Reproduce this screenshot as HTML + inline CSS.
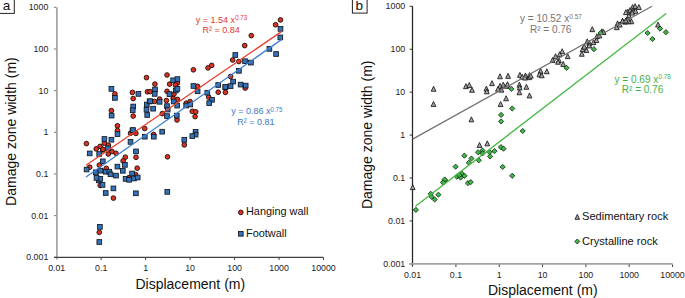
<!DOCTYPE html>
<html><head><meta charset="utf-8"><style>
html,body{margin:0;padding:0;background:#fff;}
body{width:685px;height:298px;overflow:hidden;}
svg{display:block;font-family:"Liberation Sans", sans-serif;}
.tk{font-size:8.8px;fill:#222;}
.ttl{font-size:14px;fill:#111;}
.pl{font-size:13.5px;fill:#111;}
.lg{font-size:10.9px;fill:#111;}
.eq{font-size:8.9px;}
.sup{font-size:6px;}
</style></head><body>
<svg width="685" height="298" viewBox="0 0 685 298">
<line x1="56.9" y1="7.3" x2="56.9" y2="259.6" stroke="#a2a2a2" stroke-width="1.7"/>
<line x1="54" y1="257.32" x2="56.2" y2="257.32" stroke="#7a7a7a" stroke-width="1"/>
<text x="48.3" y="260.32" text-anchor="end" class="tk">0.001</text>
<line x1="54" y1="215.65" x2="56.2" y2="215.65" stroke="#7a7a7a" stroke-width="1"/>
<text x="48.3" y="218.65" text-anchor="end" class="tk">0.01</text>
<line x1="54" y1="173.98" x2="56.2" y2="173.98" stroke="#7a7a7a" stroke-width="1"/>
<text x="48.3" y="176.98" text-anchor="end" class="tk">0.1</text>
<line x1="54" y1="132.31" x2="56.2" y2="132.31" stroke="#7a7a7a" stroke-width="1"/>
<text x="48.3" y="135.31" text-anchor="end" class="tk">1</text>
<line x1="54" y1="90.64" x2="56.2" y2="90.64" stroke="#7a7a7a" stroke-width="1"/>
<text x="48.3" y="93.64" text-anchor="end" class="tk">10</text>
<line x1="54" y1="48.97" x2="56.2" y2="48.97" stroke="#7a7a7a" stroke-width="1"/>
<text x="48.3" y="51.97" text-anchor="end" class="tk">100</text>
<line x1="54" y1="7.30" x2="56.2" y2="7.30" stroke="#7a7a7a" stroke-width="1"/>
<text x="48.3" y="10.30" text-anchor="end" class="tk">1000</text>
<line x1="54" y1="257.4" x2="323.5" y2="257.4" stroke="#404040" stroke-width="1.1"/>
<text x="56.70" y="270.8" text-anchor="middle" class="tk">0.01</text>
<line x1="101.17" y1="257.3" x2="101.17" y2="260" stroke="#404040" stroke-width="1"/>
<text x="101.17" y="270.8" text-anchor="middle" class="tk">0.1</text>
<line x1="145.64" y1="257.3" x2="145.64" y2="260" stroke="#404040" stroke-width="1"/>
<text x="145.64" y="270.8" text-anchor="middle" class="tk">1</text>
<line x1="190.11" y1="257.3" x2="190.11" y2="260" stroke="#404040" stroke-width="1"/>
<text x="190.11" y="270.8" text-anchor="middle" class="tk">10</text>
<line x1="234.58" y1="257.3" x2="234.58" y2="260" stroke="#404040" stroke-width="1"/>
<text x="234.58" y="270.8" text-anchor="middle" class="tk">100</text>
<line x1="279.05" y1="257.3" x2="279.05" y2="260" stroke="#404040" stroke-width="1"/>
<text x="279.05" y="270.8" text-anchor="middle" class="tk">1000</text>
<line x1="323.52" y1="257.3" x2="323.52" y2="260" stroke="#404040" stroke-width="1"/>
<text x="323.52" y="270.8" text-anchor="middle" class="tk">10000</text>
<text x="190.3" y="288.7" text-anchor="middle" class="ttl">Displacement (m)</text>
<text transform="translate(15.6,131.6) rotate(-90)" text-anchor="middle" class="ttl">Damage zone width (m)</text>
<line x1="412.5" y1="6.3" x2="412.5" y2="266.6" stroke="#252525" stroke-width="1.25"/>
<line x1="409.6" y1="263.88" x2="412.6" y2="263.88" stroke="#333" stroke-width="1"/>
<text x="405.2" y="266.98" text-anchor="end" class="tk">0.001</text>
<line x1="409.6" y1="220.95" x2="412.6" y2="220.95" stroke="#333" stroke-width="1"/>
<text x="405.2" y="224.05" text-anchor="end" class="tk">0.01</text>
<line x1="409.6" y1="178.02" x2="412.6" y2="178.02" stroke="#333" stroke-width="1"/>
<text x="405.2" y="181.12" text-anchor="end" class="tk">0.1</text>
<line x1="409.6" y1="135.09" x2="412.6" y2="135.09" stroke="#333" stroke-width="1"/>
<text x="405.2" y="138.19" text-anchor="end" class="tk">1</text>
<line x1="409.6" y1="92.16" x2="412.6" y2="92.16" stroke="#333" stroke-width="1"/>
<text x="405.2" y="95.26" text-anchor="end" class="tk">10</text>
<line x1="409.6" y1="49.23" x2="412.6" y2="49.23" stroke="#333" stroke-width="1"/>
<text x="405.2" y="52.33" text-anchor="end" class="tk">100</text>
<line x1="409.6" y1="6.30" x2="412.6" y2="6.30" stroke="#333" stroke-width="1"/>
<text x="405.2" y="9.40" text-anchor="end" class="tk">1000</text>
<line x1="409.6" y1="263.8" x2="672.6" y2="263.8" stroke="#a2a2a2" stroke-width="1.8"/>
<text x="412.60" y="278.0" text-anchor="middle" class="tk">0.01</text>
<line x1="455.92" y1="264.6" x2="455.92" y2="266.9" stroke="#333" stroke-width="1"/>
<text x="455.92" y="278.0" text-anchor="middle" class="tk">0.1</text>
<line x1="499.24" y1="264.6" x2="499.24" y2="266.9" stroke="#333" stroke-width="1"/>
<text x="499.24" y="278.0" text-anchor="middle" class="tk">1</text>
<line x1="542.56" y1="264.6" x2="542.56" y2="266.9" stroke="#333" stroke-width="1"/>
<text x="542.56" y="278.0" text-anchor="middle" class="tk">10</text>
<line x1="585.88" y1="264.6" x2="585.88" y2="266.9" stroke="#333" stroke-width="1"/>
<text x="585.88" y="278.0" text-anchor="middle" class="tk">100</text>
<line x1="629.20" y1="264.6" x2="629.20" y2="266.9" stroke="#333" stroke-width="1"/>
<text x="629.20" y="278.0" text-anchor="middle" class="tk">1000</text>
<line x1="672.52" y1="264.6" x2="672.52" y2="266.9" stroke="#333" stroke-width="1"/>
<text x="672.52" y="278.0" text-anchor="middle" class="tk">10000</text>
<text x="542.8" y="295.2" text-anchor="middle" class="ttl">Displacement (m)</text>
<text transform="translate(371.5,134.8) rotate(-90)" text-anchor="middle" class="ttl">Damage zone width (m)</text>
<rect x="-0.5" y="-1" width="14.8" height="14.4" fill="none" stroke="#222" stroke-width="1"/>
<text x="6.5" y="9.9" text-anchor="middle" class="pl">a</text>
<rect x="352.4" y="-1" width="14.7" height="14.1" fill="none" stroke="#222" stroke-width="1"/>
<text x="359.3" y="10.1" text-anchor="middle" class="pl">b</text>
<circle cx="240.8" cy="212.4" r="2.35" fill="#df3121" stroke="#1a0c0a" stroke-width="0.9"/>
<text x="246" y="215.4" class="lg">Hanging wall</text>
<rect x="238.45" y="231.45" width="4.7" height="4.7" fill="#3571b6" stroke="#101820" stroke-width="0.85"/>
<text x="246" y="237.1" class="lg">Footwall</text>
<path d="M577.3,214.4 L579.6,219.3 L575.0,219.3 Z" fill="#a8a4a4" stroke="#151515" stroke-width="0.85"/>
<text x="582" y="220.1" class="lg" style="font-size:11.1px">Sedimentary rock</text>
<path d="M577.3,239.0 L579.8,241.5 L577.3,244.0 L574.8,241.5 Z" fill="#40b848" stroke="#0f2410" stroke-width="0.8"/>
<text x="582" y="245.2" class="lg" style="font-size:11.1px">Crystalline rock</text>
<g fill="#df3121" stroke="#1a0c0a" stroke-width="0.9"><circle cx="280.5" cy="19.9" r="2.35"/><circle cx="275.6" cy="24.75" r="2.35"/><circle cx="251.3" cy="35.6" r="2.35"/><circle cx="244.7" cy="45.6" r="2.35"/><circle cx="232.7" cy="60.0" r="2.35"/><circle cx="238.8" cy="61.5" r="2.35"/><circle cx="230.6" cy="76.5" r="2.35"/><circle cx="193.4" cy="69.8" r="2.35"/><circle cx="208.0" cy="67.9" r="2.35"/><circle cx="211.7" cy="65.4" r="2.35"/><circle cx="146.5" cy="77.6" r="2.35"/><circle cx="167.0" cy="75.0" r="2.35"/><circle cx="177.4" cy="83.1" r="2.35"/><circle cx="169.6" cy="84.1" r="2.35"/><circle cx="175.4" cy="85.0" r="2.35"/><circle cx="154.9" cy="84.1" r="2.35"/><circle cx="147.4" cy="91.8" r="2.35"/><circle cx="150.1" cy="91.6" r="2.35"/><circle cx="167.0" cy="91.3" r="2.35"/><circle cx="174.0" cy="94.1" r="2.35"/><circle cx="197.6" cy="86.3" r="2.35"/><circle cx="218.2" cy="92.2" r="2.35"/><circle cx="225.4" cy="92.4" r="2.35"/><circle cx="208.7" cy="97.1" r="2.35"/><circle cx="245.2" cy="88.1" r="2.35"/><circle cx="114.9" cy="93.9" r="2.35"/><circle cx="132.4" cy="92.4" r="2.35"/><circle cx="133.2" cy="98.6" r="2.35"/><circle cx="111.4" cy="110.6" r="2.35"/><circle cx="133.2" cy="116.1" r="2.35"/><circle cx="117.4" cy="125.8" r="2.35"/><circle cx="117.5" cy="130.5" r="2.35"/><circle cx="144.7" cy="128.5" r="2.35"/><circle cx="154.6" cy="101.5" r="2.35"/><circle cx="159.6" cy="99.1" r="2.35"/><circle cx="166.4" cy="100.5" r="2.35"/><circle cx="173.2" cy="98.5" r="2.35"/><circle cx="177.5" cy="99.4" r="2.35"/><circle cx="162.3" cy="113.6" r="2.35"/><circle cx="177.0" cy="120.0" r="2.35"/><circle cx="186.3" cy="103.2" r="2.35"/><circle cx="190.1" cy="101.6" r="2.35"/><circle cx="192.3" cy="111.3" r="2.35"/><circle cx="195.7" cy="111.8" r="2.35"/><circle cx="195.1" cy="116.6" r="2.35"/><circle cx="184.3" cy="144.9" r="2.35"/><circle cx="86.4" cy="143.6" r="2.35"/><circle cx="104.4" cy="143.2" r="2.35"/><circle cx="108.4" cy="145.2" r="2.35"/><circle cx="100.1" cy="146.4" r="2.35"/><circle cx="96.2" cy="148.9" r="2.35"/><circle cx="102.7" cy="150.0" r="2.35"/><circle cx="103.0" cy="149.3" r="2.35"/><circle cx="130.6" cy="133.2" r="2.35"/><circle cx="135.9" cy="133.4" r="2.35"/><circle cx="153.6" cy="134.5" r="2.35"/><circle cx="108.3" cy="154.0" r="2.35"/><circle cx="112.0" cy="151.5" r="2.35"/><circle cx="116.0" cy="153.3" r="2.35"/><circle cx="99.3" cy="165.1" r="2.35"/><circle cx="89.7" cy="167.2" r="2.35"/><circle cx="106.3" cy="168.3" r="2.35"/><circle cx="125.3" cy="157.2" r="2.35"/><circle cx="123.1" cy="160.9" r="2.35"/><circle cx="136.0" cy="157.3" r="2.35"/><circle cx="137.2" cy="168.2" r="2.35"/><circle cx="167.5" cy="156.8" r="2.35"/><circle cx="129.0" cy="177.6" r="2.35"/><circle cx="135.5" cy="174.6" r="2.35"/><circle cx="100.2" cy="185.4" r="2.35"/><circle cx="113.4" cy="198.1" r="2.35"/><circle cx="99.3" cy="232.3" r="2.35"/></g><g fill="#3571b6" stroke="#101820" stroke-width="0.85"><rect x="278.15" y="26.55" width="4.7" height="4.7"/><rect x="277.95" y="35.05" width="4.7" height="4.7"/><rect x="267.05" y="46.55" width="4.7" height="4.7"/><rect x="273.75" y="51.65" width="4.7" height="4.7"/><rect x="232.95" y="52.65" width="4.7" height="4.7"/><rect x="242.65" y="58.85" width="4.7" height="4.7"/><rect x="248.55" y="60.25" width="4.7" height="4.7"/><rect x="236.55" y="68.45" width="4.7" height="4.7"/><rect x="230.75" y="79.25" width="4.7" height="4.7"/><rect x="228.25" y="83.75" width="4.7" height="4.7"/><rect x="223.05" y="84.95" width="4.7" height="4.7"/><rect x="238.25" y="82.25" width="4.7" height="4.7"/><rect x="243.35" y="83.25" width="4.7" height="4.7"/><rect x="170.75" y="77.95" width="4.7" height="4.7"/><rect x="175.05" y="76.75" width="4.7" height="4.7"/><rect x="152.65" y="87.15" width="4.7" height="4.7"/><rect x="152.35" y="91.55" width="4.7" height="4.7"/><rect x="173.45" y="88.15" width="4.7" height="4.7"/><rect x="175.05" y="86.55" width="4.7" height="4.7"/><rect x="167.05" y="91.75" width="4.7" height="4.7"/><rect x="191.05" y="83.65" width="4.7" height="4.7"/><rect x="195.25" y="88.95" width="4.7" height="4.7"/><rect x="204.95" y="90.35" width="4.7" height="4.7"/><rect x="215.85" y="82.65" width="4.7" height="4.7"/><rect x="222.95" y="84.65" width="4.7" height="4.7"/><rect x="209.65" y="97.45" width="4.7" height="4.7"/><rect x="206.85" y="100.75" width="4.7" height="4.7"/><rect x="109.05" y="86.55" width="4.7" height="4.7"/><rect x="112.55" y="95.55" width="4.7" height="4.7"/><rect x="136.05" y="91.55" width="4.7" height="4.7"/><rect x="130.85" y="104.15" width="4.7" height="4.7"/><rect x="130.35" y="107.95" width="4.7" height="4.7"/><rect x="109.25" y="113.25" width="4.7" height="4.7"/><rect x="144.45" y="102.15" width="4.7" height="4.7"/><rect x="144.15" y="107.35" width="4.7" height="4.7"/><rect x="144.85" y="112.65" width="4.7" height="4.7"/><rect x="147.25" y="99.15" width="4.7" height="4.7"/><rect x="147.75" y="98.85" width="4.7" height="4.7"/><rect x="157.25" y="99.45" width="4.7" height="4.7"/><rect x="171.35" y="99.15" width="4.7" height="4.7"/><rect x="174.85" y="103.25" width="4.7" height="4.7"/><rect x="150.75" y="106.35" width="4.7" height="4.7"/><rect x="164.65" y="103.75" width="4.7" height="4.7"/><rect x="165.35" y="107.25" width="4.7" height="4.7"/><rect x="164.65" y="113.75" width="4.7" height="4.7"/><rect x="174.45" y="113.25" width="4.7" height="4.7"/><rect x="183.85" y="103.15" width="4.7" height="4.7"/><rect x="187.95" y="102.15" width="4.7" height="4.7"/><rect x="193.25" y="129.45" width="4.7" height="4.7"/><rect x="193.25" y="132.25" width="4.7" height="4.7"/><rect x="189.95" y="133.75" width="4.7" height="4.7"/><rect x="181.95" y="137.55" width="4.7" height="4.7"/><rect x="102.05" y="136.65" width="4.7" height="4.7"/><rect x="109.05" y="137.35" width="4.7" height="4.7"/><rect x="115.15" y="131.75" width="4.7" height="4.7"/><rect x="130.15" y="127.95" width="4.7" height="4.7"/><rect x="130.65" y="127.75" width="4.7" height="4.7"/><rect x="128.15" y="139.55" width="4.7" height="4.7"/><rect x="142.45" y="134.35" width="4.7" height="4.7"/><rect x="151.45" y="134.35" width="4.7" height="4.7"/><rect x="159.85" y="129.35" width="4.7" height="4.7"/><rect x="87.35" y="151.05" width="4.7" height="4.7"/><rect x="96.85" y="151.65" width="4.7" height="4.7"/><rect x="105.65" y="145.95" width="4.7" height="4.7"/><rect x="133.65" y="149.05" width="4.7" height="4.7"/><rect x="100.45" y="158.95" width="4.7" height="4.7"/><rect x="84.25" y="167.15" width="4.7" height="4.7"/><rect x="93.45" y="169.95" width="4.7" height="4.7"/><rect x="98.05" y="168.35" width="4.7" height="4.7"/><rect x="103.55" y="169.35" width="4.7" height="4.7"/><rect x="106.95" y="169.35" width="4.7" height="4.7"/><rect x="108.15" y="171.95" width="4.7" height="4.7"/><rect x="113.65" y="173.25" width="4.7" height="4.7"/><rect x="115.05" y="164.25" width="4.7" height="4.7"/><rect x="122.55" y="162.55" width="4.7" height="4.7"/><rect x="120.45" y="168.45" width="4.7" height="4.7"/><rect x="129.75" y="171.15" width="4.7" height="4.7"/><rect x="123.25" y="176.55" width="4.7" height="4.7"/><rect x="126.75" y="177.45" width="4.7" height="4.7"/><rect x="131.65" y="176.15" width="4.7" height="4.7"/><rect x="135.35" y="175.15" width="4.7" height="4.7"/><rect x="96.45" y="178.05" width="4.7" height="4.7"/><rect x="97.95" y="176.45" width="4.7" height="4.7"/><rect x="94.15" y="175.55" width="4.7" height="4.7"/><rect x="100.15" y="182.55" width="4.7" height="4.7"/><rect x="111.05" y="186.05" width="4.7" height="4.7"/><rect x="103.35" y="190.65" width="4.7" height="4.7"/><rect x="133.55" y="190.95" width="4.7" height="4.7"/><rect x="164.95" y="189.55" width="4.7" height="4.7"/><rect x="97.55" y="224.55" width="4.7" height="4.7"/><rect x="96.95" y="239.65" width="4.7" height="4.7"/></g><g fill="#a8a4a4" stroke="#151515" stroke-width="0.85"><path d="M433.60,86.25 L436.00,91.25 L431.20,91.25 Z"/><path d="M433.50,101.45 L435.90,106.45 L431.10,106.45 Z"/><path d="M412.70,184.65 L415.10,189.65 L410.30,189.65 Z"/><path d="M471.40,116.85 L473.80,121.85 L469.00,121.85 Z"/><path d="M465.90,83.65 L468.30,88.65 L463.50,88.65 Z"/><path d="M469.30,82.45 L471.70,87.45 L466.90,87.45 Z"/><path d="M472.00,87.25 L474.40,92.25 L469.60,92.25 Z"/><path d="M486.40,86.05 L488.80,91.05 L484.00,91.05 Z"/><path d="M486.80,88.85 L489.20,93.85 L484.40,93.85 Z"/><path d="M492.00,80.65 L494.40,85.65 L489.60,85.65 Z"/><path d="M500.00,73.75 L502.40,78.75 L497.60,78.75 Z"/><path d="M508.10,73.35 L510.50,78.35 L505.70,78.35 Z"/><path d="M500.10,83.35 L502.50,88.35 L497.70,88.35 Z"/><path d="M503.30,82.15 L505.70,87.15 L500.90,87.15 Z"/><path d="M498.00,86.35 L500.40,91.35 L495.60,91.35 Z"/><path d="M501.40,87.15 L503.80,92.15 L499.00,92.15 Z"/><path d="M506.80,83.35 L509.20,88.35 L504.40,88.35 Z"/><path d="M507.50,81.75 L509.90,86.75 L505.10,86.75 Z"/><path d="M519.90,72.35 L522.30,77.35 L517.50,77.35 Z"/><path d="M522.20,74.25 L524.60,79.25 L519.80,79.25 Z"/><path d="M525.50,72.95 L527.90,77.95 L523.10,77.95 Z"/><path d="M525.00,75.05 L527.40,80.05 L522.60,80.05 Z"/><path d="M529.50,72.55 L531.90,77.55 L527.10,77.55 Z"/><path d="M529.30,74.65 L531.70,79.65 L526.90,79.65 Z"/><path d="M519.40,82.15 L521.80,87.15 L517.00,87.15 Z"/><path d="M519.70,84.95 L522.10,89.95 L517.30,89.95 Z"/><path d="M519.40,89.75 L521.80,94.75 L517.00,94.75 Z"/><path d="M526.40,84.25 L528.80,89.25 L524.00,89.25 Z"/><path d="M529.50,92.95 L531.90,97.95 L527.10,97.95 Z"/><path d="M506.10,95.75 L508.50,100.75 L503.70,100.75 Z"/><path d="M500.60,101.55 L503.00,106.55 L498.20,106.55 Z"/><path d="M540.60,68.35 L543.00,73.35 L538.20,73.35 Z"/><path d="M539.40,71.85 L541.80,76.85 L537.00,76.85 Z"/><path d="M541.80,72.75 L544.20,77.75 L539.40,77.75 Z"/><path d="M546.80,68.75 L549.20,73.75 L544.40,73.75 Z"/><path d="M530.80,73.15 L533.20,78.15 L528.40,78.15 Z"/><path d="M562.20,48.75 L564.60,53.75 L559.80,53.75 Z"/><path d="M559.70,51.65 L562.10,56.65 L557.30,56.65 Z"/><path d="M567.70,53.65 L570.10,58.65 L565.30,58.65 Z"/><path d="M555.50,53.75 L557.90,58.75 L553.10,58.75 Z"/><path d="M552.60,57.55 L555.00,62.55 L550.20,62.55 Z"/><path d="M558.90,57.55 L561.30,62.55 L556.50,62.55 Z"/><path d="M558.00,59.25 L560.40,64.25 L555.60,64.25 Z"/><path d="M563.20,61.45 L565.60,66.45 L560.80,66.45 Z"/><path d="M592.30,26.65 L594.70,31.65 L589.90,31.65 Z"/><path d="M587.20,38.85 L589.60,43.85 L584.80,43.85 Z"/><path d="M589.30,40.45 L591.70,45.45 L586.90,45.45 Z"/><path d="M593.50,39.65 L595.90,44.65 L591.10,44.65 Z"/><path d="M596.40,37.55 L598.80,42.55 L594.00,42.55 Z"/><path d="M596.90,33.75 L599.30,38.75 L594.50,38.75 Z"/><path d="M599.40,32.95 L601.80,37.95 L597.00,37.95 Z"/><path d="M601.90,28.75 L604.30,33.75 L599.50,33.75 Z"/><path d="M603.60,29.55 L606.00,34.55 L601.20,34.55 Z"/><path d="M589.30,42.95 L591.70,47.95 L586.90,47.95 Z"/><path d="M586.40,47.55 L588.80,52.55 L584.00,52.55 Z"/><path d="M582.60,46.65 L585.00,51.65 L580.20,51.65 Z"/><path d="M581.80,51.25 L584.20,56.25 L579.40,56.25 Z"/><path d="M584.30,44.15 L586.70,49.15 L581.90,49.15 Z"/><path d="M617.60,20.85 L620.00,25.85 L615.20,25.85 Z"/><path d="M616.80,24.65 L619.20,29.65 L614.40,29.65 Z"/><path d="M619.70,22.05 L622.10,27.05 L617.30,27.05 Z"/><path d="M622.60,18.35 L625.00,23.35 L620.20,23.35 Z"/><path d="M625.20,19.15 L627.60,24.15 L622.80,24.15 Z"/><path d="M628.10,15.85 L630.50,20.85 L625.70,20.85 Z"/><path d="M631.40,18.75 L633.80,23.75 L629.00,23.75 Z"/><path d="M628.50,18.75 L630.90,23.75 L626.10,23.75 Z"/><path d="M628.90,12.85 L631.30,17.85 L626.50,17.85 Z"/><path d="M632.60,4.55 L635.00,9.55 L630.20,9.55 Z"/><path d="M635.10,3.75 L637.50,8.75 L632.70,8.75 Z"/><path d="M638.90,4.55 L641.30,9.55 L636.50,9.55 Z"/><path d="M628.00,9.15 L630.40,14.15 L625.60,14.15 Z"/><path d="M630.10,7.55 L632.50,12.55 L627.70,12.55 Z"/><path d="M632.60,7.95 L635.00,12.95 L630.20,12.95 Z"/><path d="M635.50,8.35 L637.90,13.35 L633.10,13.35 Z"/><path d="M632.20,10.05 L634.60,15.05 L629.80,15.05 Z"/><path d="M625.90,9.65 L628.30,14.65 L623.50,14.65 Z"/><path d="M622.50,18.45 L624.90,23.45 L620.10,23.45 Z"/><path d="M625.90,17.95 L628.30,22.95 L623.50,22.95 Z"/><path d="M479.50,142.45 L481.90,147.45 L477.10,147.45 Z"/><path d="M487.30,140.85 L489.70,145.85 L484.90,145.85 Z"/><path d="M658.00,22.05 L660.40,27.05 L655.60,27.05 Z"/></g><g fill="#40b848" stroke="#0f2410" stroke-width="0.8"><path d="M511.4,86.3 L514.0,88.9 L511.4,91.5 L508.8,88.9 Z"/><path d="M512.2,105.9 L514.8,108.5 L512.2,111.1 L509.6,108.5 Z"/><path d="M501.1,112.3 L503.7,114.9 L501.1,117.5 L498.5,114.9 Z"/><path d="M501.1,118.8 L503.7,121.4 L501.1,124.0 L498.5,121.4 Z"/><path d="M566.5,65.2 L569.1,67.8 L566.5,70.4 L563.9,67.8 Z"/><path d="M600.6,30.4 L603.2,33.0 L600.6,35.6 L598.0,33.0 Z"/><path d="M593.9,46.6 L596.5,49.2 L593.9,51.8 L591.3,49.2 Z"/><path d="M660.0,26.0 L662.6,28.6 L660.0,31.2 L657.4,28.6 Z"/><path d="M665.9,29.6 L668.5,32.2 L665.9,34.8 L663.3,32.2 Z"/><path d="M647.6,30.4 L650.2,33.0 L647.6,35.6 L645.0,33.0 Z"/><path d="M652.4,36.4 L655.0,39.0 L652.4,41.6 L649.8,39.0 Z"/><path d="M415.9,207.3 L418.5,209.9 L415.9,212.5 L413.3,209.9 Z"/><path d="M430.7,191.2 L433.3,193.8 L430.7,196.4 L428.1,193.8 Z"/><path d="M431.6,194.2 L434.2,196.8 L431.6,199.4 L429.0,196.8 Z"/><path d="M434.7,196.9 L437.3,199.5 L434.7,202.1 L432.1,199.5 Z"/><path d="M438.4,192.1 L441.0,194.7 L438.4,197.3 L435.8,194.7 Z"/><path d="M443.5,179.5 L446.1,182.1 L443.5,184.7 L440.9,182.1 Z"/><path d="M445.2,177.8 L447.8,180.4 L445.2,183.0 L442.6,180.4 Z"/><path d="M455.6,164.1 L458.2,166.7 L455.6,169.3 L453.0,166.7 Z"/><path d="M444.6,176.9 L447.2,179.5 L444.6,182.1 L442.0,179.5 Z"/><path d="M443.0,179.9 L445.6,182.5 L443.0,185.1 L440.4,182.5 Z"/><path d="M456.8,174.0 L459.4,176.6 L456.8,179.2 L454.2,176.6 Z"/><path d="M460.6,175.0 L463.2,177.6 L460.6,180.2 L458.0,177.6 Z"/><path d="M461.7,171.0 L464.3,173.6 L461.7,176.2 L459.1,173.6 Z"/><path d="M464.5,173.2 L467.1,175.8 L464.5,178.4 L461.9,175.8 Z"/><path d="M459.3,172.5 L461.9,175.1 L459.3,177.7 L456.7,175.1 Z"/><path d="M468.0,180.5 L470.6,183.1 L468.0,185.7 L465.4,183.1 Z"/><path d="M470.7,179.5 L473.3,182.1 L470.7,184.7 L468.1,182.1 Z"/><path d="M464.4,153.1 L467.0,155.7 L464.4,158.3 L461.8,155.7 Z"/><path d="M471.4,155.9 L474.0,158.5 L471.4,161.1 L468.8,158.5 Z"/><path d="M468.8,160.1 L471.4,162.7 L468.8,165.3 L466.2,162.7 Z"/><path d="M478.1,149.7 L480.7,152.3 L478.1,154.9 L475.5,152.3 Z"/><path d="M482.5,148.0 L485.1,150.6 L482.5,153.2 L479.9,150.6 Z"/><path d="M482.5,150.8 L485.1,153.4 L482.5,156.0 L479.9,153.4 Z"/><path d="M478.8,157.7 L481.4,160.3 L478.8,162.9 L476.2,160.3 Z"/><path d="M489.6,149.6 L492.2,152.2 L489.6,154.8 L487.0,152.2 Z"/><path d="M494.5,148.5 L497.1,151.1 L494.5,153.7 L491.9,151.1 Z"/><path d="M490.1,153.8 L492.7,156.4 L490.1,159.0 L487.5,156.4 Z"/><path d="M500.9,144.5 L503.5,147.1 L500.9,149.7 L498.3,147.1 Z"/><path d="M503.5,146.1 L506.1,148.7 L503.5,151.3 L500.9,148.7 Z"/><path d="M522.7,128.4 L525.3,131.0 L522.7,133.6 L520.1,131.0 Z"/><path d="M502.7,164.3 L505.3,166.9 L502.7,169.5 L500.1,166.9 Z"/><path d="M512.2,173.2 L514.8,175.8 L512.2,178.4 L509.6,175.8 Z"/></g>
<path d="M86.00,165.29 L281.80,31.36" stroke="#e8402e" stroke-width="1.3" fill="none"/><path d="M86.00,176.95 L281.80,39.35" stroke="#3f7fd0" stroke-width="1.3" fill="none"/><path d="M412.6,139.1 L652,6.3" stroke="#787272" stroke-width="1.3" fill="none"/><path d="M415.5,206.3 L666.2,13.4" stroke="#49b848" stroke-width="1.3" fill="none"/>
<text x="195.8" y="22.7" font-size="9" fill="#e3392c">y = 1.54 x</text><text transform="translate(235.2,19.7) scale(1,1.2)" font-size="6.1" fill="#e3392c">0.73</text><text x="202.5" y="32.8" font-size="9" fill="#e3392c">R² = 0.84</text><text x="231.2" y="114.1" font-size="9" fill="#3b77c8">y = 0.86 x</text><text transform="translate(270.6,111.8) scale(1,1.15)" font-size="6.0" fill="#3b77c8">0.75</text><text x="237.3" y="124.7" font-size="9" fill="#3b77c8">R² = 0.81</text><text x="520.0" y="21.9" font-size="10" fill="#787272">y = 10.52 x</text><text transform="translate(569.4,18.8) scale(1,1.15)" font-size="6.3" fill="#787272">0.57</text><text x="530.0" y="33.0" font-size="10" fill="#787272">R² = 0.76</text><text x="614.6" y="82.6" font-size="10" fill="#45b04a">y = 0.69 x</text><text transform="translate(658.4,79.4) scale(1,1.2)" font-size="6.4" fill="#45b04a">0.78</text><text x="621.8" y="93.4" font-size="10" fill="#45b04a">R² = 0.76</text>
</svg>
</body></html>
